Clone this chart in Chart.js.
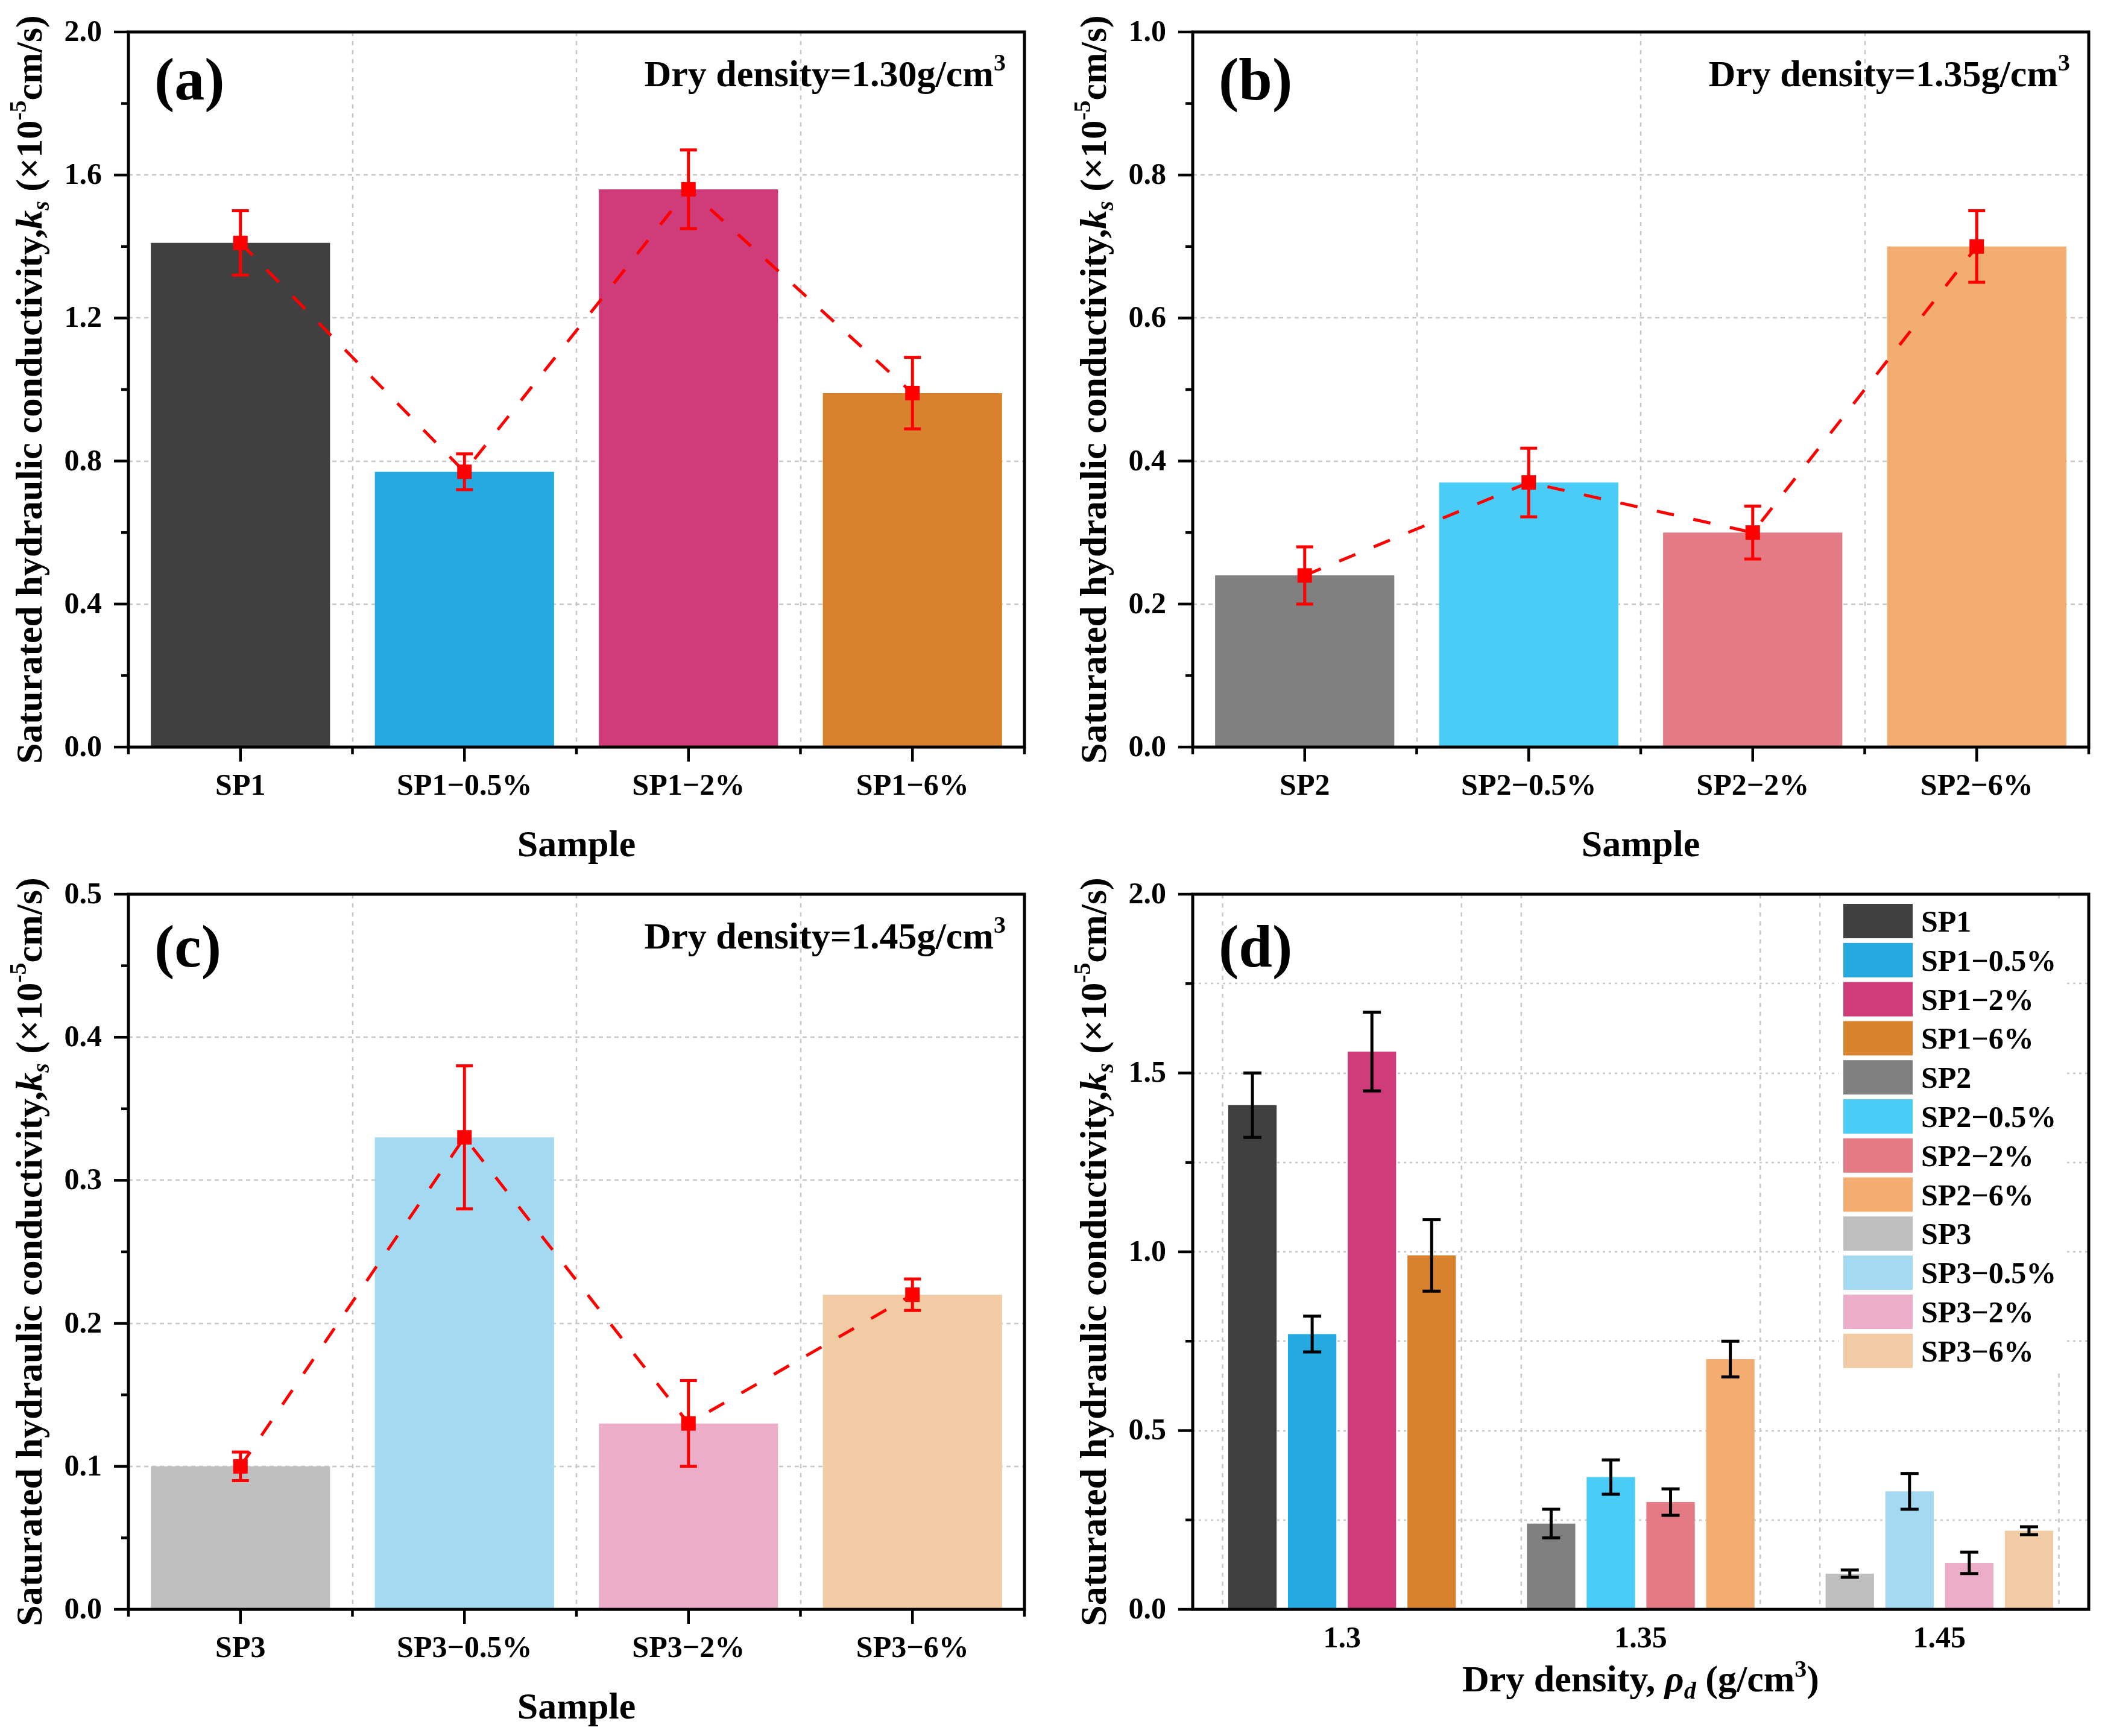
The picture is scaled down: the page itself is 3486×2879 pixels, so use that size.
<!DOCTYPE html>
<html>
<head>
<meta charset="utf-8">
<script src="https://cdn.jsdelivr.net/npm/chart.js@4.4.1/dist/chart.umd.min.js"></script>
<style>
  html, body { margin: 0; padding: 0; background: #fff; }
  #page { position: relative; width: 3486px; height: 2879px; overflow: hidden; }
  #page canvas { position: absolute; }
</style>
</head>
<body>
<div id="page">
  <canvas id="panelA" width="1743" height="1440" style="left:0;top:0"></canvas>
  <canvas id="panelB" width="1743" height="1440" style="left:1743px;top:0"></canvas>
  <canvas id="panelC" width="1743" height="1439" style="left:0;top:1440px"></canvas>
  <canvas id="panelD" width="1743" height="1439" style="left:1743px;top:1440px"></canvas>
</div>
<script>
// --- Data ---
const samplesSP1 = ['SP1', 'SP1−0.5%', 'SP1−2%', 'SP1−6%'];
const samplesSP2 = ['SP2', 'SP2−0.5%', 'SP2−2%', 'SP2−6%'];
const samplesSP3 = ['SP3', 'SP3−0.5%', 'SP3−2%', 'SP3−6%'];
const ksSP1 = [1.41, 0.77, 1.56, 0.99];
const errSP1 = [0.09, 0.05, 0.11, 0.10];
const ksSP2 = [0.24, 0.37, 0.30, 0.70];
const errSP2 = [0.04, 0.048, 0.037, 0.05];
const ksSP3 = [0.10, 0.33, 0.13, 0.22];
const errSP3 = [0.01, 0.05, 0.03, 0.011];
const colorsSP1 = ['#404040', '#24A9E1', '#D03B79', '#D9822D'];
const colorsSP2 = ['#808080', '#49CDF7', '#E47A83', '#F3AD70'];
const colorsSP3 = ['#BFBFBF', '#A4DAF1', '#EBADC8', '#F0CBA4'];
const densityLabels = ['1.3', '1.35', '1.45'];
const densityTexts = ['1.30', '1.35', '1.45'];

const FONT = '"Liberation Serif", "Times New Roman", serif';
const panelOpts = {};

function fontStr(size, italic) {
  return (italic ? 'italic ' : '') + 'bold ' + size + 'px ' + FONT;
}

function isMajor(v, step) {
  return Math.abs(v / step - Math.round(v / step)) < 1e-6;
}

// draw pieces of text in a row; each piece {t, s, i, dy}
function richText(ctx, parts, x, y, align) {
  let w = 0;
  parts.forEach(p => { ctx.font = fontStr(p.s, p.i); p.w = ctx.measureText(p.t).width; w += p.w; });
  let cx = align === 'right' ? x - w : align === 'center' ? x - w / 2 : x;
  ctx.textAlign = 'left';
  ctx.textBaseline = 'alphabetic';
  ctx.fillStyle = '#000';
  parts.forEach(p => { ctx.font = fontStr(p.s, p.i); ctx.fillText(p.t, cx, y + (p.dy || 0)); cx += p.w; });
}

function seg(ctx, x1, y1, x2, y2) {
  ctx.beginPath();
  ctx.moveTo(x1, y1);
  ctx.lineTo(x2, y2);
  ctx.stroke();
}

const yTitle = [
  { t: 'Saturated hydraulic conductivity,', s: 62 },
  { t: 'k', s: 62, i: true },
  { t: 's', s: 40, i: true, dy: 12 },
  { t: ' (×10', s: 62 },
  { t: '-5', s: 40, dy: -26 },
  { t: 'cm/s)', s: 62 }
];

// --- Decorations: grid, error bars, frame, ticks, titles, legend ---
const decor = {
  id: 'decor',
  beforeDatasetsDraw(chart) {
    const p = panelOpts[chart.canvas.id];
    const { ctx, chartArea: a, scales: { x, y } } = chart;
    ctx.save();
    ctx.strokeStyle = '#c8c8c8';
    ctx.lineWidth = 2.5;
    ctx.setLineDash(p.gridDash);
    y.ticks.forEach(t => {
      if (t.value <= 1e-9 || t.value >= y.max - 1e-9) return;
      if (!p.gridMinor && !isMajor(t.value, p.yLabelStep)) return;
      const py = Math.round(y.getPixelForValue(t.value));
      seg(ctx, a.left, py, a.right, py);
    });
    ctx.setLineDash([7, 8]);
    const n = x.getLabels().length;
    const cw = x.width / n;
    if (p.groupGrid) {
      for (let i = 0; i < n; i++) {
        const c = x.getPixelForValue(i);
        [c - cw * p.groupGrid / 2, c + cw * p.groupGrid / 2].forEach(px => seg(ctx, px, a.top, px, a.bottom));
      }
    } else {
      for (let i = 1; i < n; i++) {
        const px = Math.round(x.left + i * cw);
        seg(ctx, px, a.top, px, a.bottom);
      }
    }
    ctx.restore();
  },
  afterDatasetsDraw(chart) {
    const { ctx, scales: { y } } = chart;
    ctx.save();
    chart.data.datasets.forEach((ds, di) => {
      if (!ds.errors) return;
      const meta = chart.getDatasetMeta(di);
      ctx.strokeStyle = ds.errorColor;
      ctx.lineWidth = 5;
      meta.data.forEach((el, i) => {
        const v = ds.data[i], e = ds.errors[i];
        if (v == null || e == null) return;
        const yt = y.getPixelForValue(v + e), yb = y.getPixelForValue(v - e);
        seg(ctx, el.x, yt, el.x, yb);
        seg(ctx, el.x - ds.cap, yt, el.x + ds.cap, yt);
        seg(ctx, el.x - ds.cap, yb, el.x + ds.cap, yb);
      });
    });
    ctx.restore();
  },
  afterDraw(chart) {
    const p = panelOpts[chart.canvas.id];
    const { ctx, chartArea: a, scales: { x, y } } = chart;
    ctx.save();
    ctx.strokeStyle = '#000';
    ctx.lineCap = 'butt';
    // y ticks and their labels
    ctx.lineWidth = 4.5;
    y.ticks.forEach(t => {
      const py = y.getPixelForValue(t.value);
      const major = isMajor(t.value, p.yLabelStep);
      seg(ctx, a.left, py, a.left - (major ? 24 : 12), py);
      if (major) {
        ctx.font = fontStr(50);
        ctx.fillStyle = '#000';
        ctx.textAlign = 'right';
        ctx.textBaseline = 'middle';
        ctx.fillText(t.value.toFixed(1), a.left - 44, py + 2);
      }
    });
    // x ticks
    if (!p.groupGrid) {
      const n = x.getLabels().length;
      const cw = x.width / n;
      for (let i = 0; i <= n; i++) seg(ctx, x.left + i * cw, a.bottom, x.left + i * cw, a.bottom + 12);
      for (let i = 0; i < n; i++) seg(ctx, x.getPixelForValue(i), a.bottom, x.getPixelForValue(i), a.bottom + 24);
    }
    // frame
    ctx.lineWidth = 5;
    ctx.strokeRect(a.left, a.top, a.right - a.left, a.bottom - a.top);

    // axis titles
    ctx.save();
    ctx.translate(a.left - 165, (a.top + a.bottom) / 2);
    ctx.rotate(-Math.PI / 2);
    richText(ctx, yTitle, 0, 21, 'center');
    ctx.restore();
    richText(ctx, p.xTitle, (a.left + a.right) / 2, a.bottom + p.xTitleBase, 'center');

    // panel tag
    richText(ctx, [{ t: '(' + p.tag + ')', s: 100 }], a.left + 43, a.top + p.tagBase, 'left');
    if (p.density) {
      richText(ctx, [
        { t: 'Dry density=' + p.density + 'g/cm', s: 62 },
        { t: '3', s: 40, dy: -26 }
      ], a.right - 31, a.top + 90, 'right');
    }

    // legend
    if (p.legend) {
      const lx = a.right - 407, ly = a.top + 16, step = 64.8;
      const sets = chart.data.datasets;
      ctx.fillStyle = '#fff';
      ctx.fillRect(lx - 8, ly - 8, 375, sets.length * step + 6);
      sets.forEach((ds, i) => {
        const top = ly + i * step;
        ctx.fillStyle = ds.backgroundColor;
        ctx.fillRect(lx, top, 115, 57);
        richText(ctx, [{ t: ds.label, s: 50 }], lx + 129, top + 46, 'left');
      });
    }
    ctx.restore();
  }
};

function makePanel(id, cfg) {
  const canvas = document.getElementById(id);
  const W = canvas.width, H = canvas.height;
  panelOpts[id] = cfg;
  cfg.fitLeft = cfg.left;
  cfg.fitBottom = H - cfg.bottom;
  const pad = { left: 0, top: cfg.top, right: W - cfg.right, bottom: 0 };
  const chart = new Chart(canvas, {
    data: { labels: cfg.labels, datasets: cfg.datasets },
    options: {
      responsive: false,
      devicePixelRatio: 1,
      animation: false,
      events: [],
      layout: { autoPadding: false, padding: pad },
      plugins: { legend: { display: false }, tooltip: { enabled: false } },
      scales: {
        x: {
          type: 'category',
          offset: true,
          grid: { display: false },
          border: { display: false },
          ticks: {
            color: '#000', padding: cfg.xPad, maxRotation: 0, minRotation: 0, autoSkip: false,
            font: { family: FONT, size: 50, weight: 'bold' }
          },
          afterFit: s => { s.height = cfg.fitBottom; }
        },
        y: {
          min: 0,
          max: cfg.yMax,
          grid: { display: false },
          border: { display: false },
          // labels are drawn by the decor plugin so they do not push the plot area down
          ticks: { stepSize: cfg.yStep, display: false, padding: 0 },
          afterFit: s => { s.width = cfg.fitLeft; }
        }
      }
    },
    plugins: [decor]
  });
  // nudge the plot area onto the wanted box if the layout drifted
  for (let k = 0; k < 3; k++) {
    const a = chart.chartArea;
    const dl = cfg.left - a.left, dt = cfg.top - a.top, dr = cfg.right - a.right, db = cfg.bottom - a.bottom;
    if (Math.max(Math.abs(dl), Math.abs(dt), Math.abs(dr), Math.abs(db)) < 0.5) break;
    cfg.fitLeft += dl;
    pad.top += dt;
    pad.right -= dr;
    cfg.fitBottom -= db;
    chart.update();
  }
  return chart;
}

function sampleDatasets(ks, err, colors) {
  return [
    {
      type: 'line', data: ks, errors: err, errorColor: '#FF0000', cap: 14, order: 0,
      borderColor: '#FF0000', backgroundColor: '#FF0000', borderWidth: 5, borderDash: [29, 33],
      tension: 0, pointStyle: 'rect', pointRadius: 17, pointBorderWidth: 0
    },
    {
      type: 'bar', data: ks, backgroundColor: colors, order: 1,
      barPercentage: 0.8, categoryPercentage: 1.0
    }
  ];
}

const sampleTitle = [{ t: 'Sample', s: 62 }];

makePanel('panelA', {
  tag: 'a', density: densityTexts[0], labels: samplesSP1,
  datasets: sampleDatasets(ksSP1, errSP1, colorsSP1),
  left: 213, right: 1699, top: 53, bottom: 1239, tagBase: 112,
  yMax: 2.0, yStep: 0.2, yLabelStep: 0.4, gridDash: [7, 6],
  xPad: 28, xTitle: sampleTitle, xTitleBase: 181
});

makePanel('panelB', {
  tag: 'b', density: densityTexts[1], labels: samplesSP2,
  datasets: sampleDatasets(ksSP2, errSP2, colorsSP2),
  left: 235, right: 1721, top: 53, bottom: 1239, tagBase: 112,
  yMax: 1.0, yStep: 0.1, yLabelStep: 0.2, gridDash: [7, 6],
  xPad: 28, xTitle: sampleTitle, xTitleBase: 181
});

makePanel('panelC', {
  tag: 'c', density: densityTexts[2], labels: samplesSP3,
  datasets: sampleDatasets(ksSP3, errSP3, colorsSP3),
  left: 213, right: 1699, top: 43, bottom: 1229, tagBase: 120,
  yMax: 0.5, yStep: 0.05, yLabelStep: 0.1, gridDash: [7, 6],
  xPad: 28, xTitle: sampleTitle, xTitleBase: 181
});

// --- Panel d: all samples grouped by dry density ---
const groupsD = [
  { names: samplesSP1, ks: ksSP1, err: errSP1, colors: colorsSP1 },
  { names: samplesSP2, ks: ksSP2, err: errSP2, colors: colorsSP2 },
  { names: samplesSP3, ks: ksSP3, err: errSP3, colors: colorsSP3 }
];
const datasetsD = [];
groupsD.forEach((g, gi) => {
  g.names.forEach((name, i) => {
    datasetsD.push({
      type: 'bar',
      label: name,
      data: densityLabels.map((_, j) => (j === gi ? g.ks[i] : null)),
      errors: densityLabels.map((_, j) => (j === gi ? g.err[i] : null)),
      errorColor: '#000', cap: 15,
      backgroundColor: g.colors[i],
      barPercentage: 0.81, categoryPercentage: 0.8, skipNull: true
    });
  });
});

makePanel('panelD', {
  tag: 'd', labels: densityLabels, datasets: datasetsD, legend: true,
  left: 235, right: 1721, top: 43, bottom: 1229, tagBase: 120,
  yMax: 2.0, yStep: 0.25, yLabelStep: 0.5, gridDash: [4, 6], gridMinor: true, groupGrid: 0.8,
  xPad: 12, xTitleBase: 136,
  xTitle: [
    { t: 'Dry density, ', s: 62 },
    { t: 'ρ', s: 62, i: true },
    { t: 'd', s: 40, i: true, dy: 12 },
    { t: ' (g/cm', s: 62 },
    { t: '3', s: 40, dy: -24 },
    { t: ')', s: 62 }
  ]
});
</script>
</body>
</html>
